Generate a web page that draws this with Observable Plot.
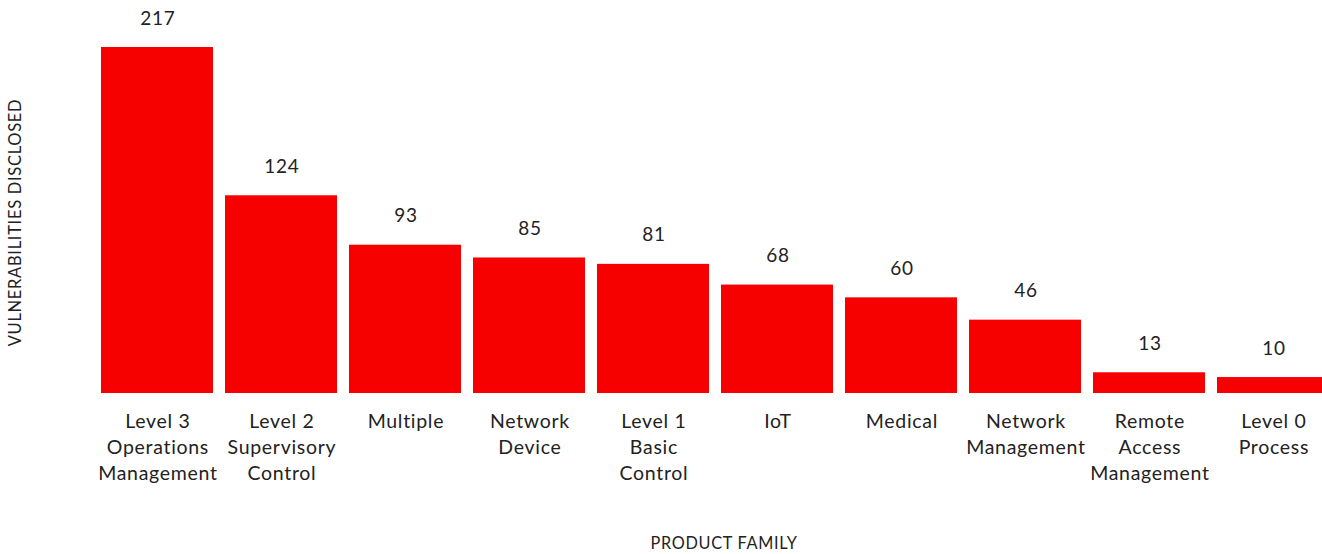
<!DOCTYPE html>
<html>
<head>
<meta charset="utf-8">
<script src="https://cdn.jsdelivr.net/npm/d3@7"></script>
<script src="https://cdn.jsdelivr.net/npm/@observablehq/plot@0.6"></script>
<style>
  body { margin: 0; background: #fff; }
  #chart svg { overflow: hidden; }
  #chart text { letter-spacing: 0.7px; }
</style>
</head>
<body>
<div id="chart"></div>
<script>
const categories = ["Level 3 Operations Management", "Level 2 Supervisory Control", "Multiple", "Network Device", "Level 1 Basic Control", "IoT", "Medical", "Network Management", "Remote Access Management", "Level 0 Process"];
const tickLabels = ["Level 3\nOperations\nManagement", "Level 2\nSupervisory\nControl", "Multiple", "Network\nDevice", "Level 1\nBasic\nControl", "IoT", "Medical", "Network\nManagement", "Remote\nAccess\nManagement", "Level 0\nProcess"];
const values = [217, 124, 93, 85, 81, 68, 60, 46, 13, 10];
const yLabel = "VULNERABILITIES DISCLOSED";
const xLabel = "PRODUCT FAMILY";

const data = categories.map((c, i) => ({category: c, value: values[i], tick: tickLabels[i]}));
const font = "Lato, 'Noto Sans', sans-serif";

const chart = Plot.plot({
  width: 1322,
  height: 554,
  marginTop: 47,
  marginBottom: 161,
  marginLeft: 95,
  marginRight: 0,
  style: {fontFamily: font, background: "#fff", color: "#222"},
  x: {domain: categories, range: [95, 1335], paddingInner: 0.0968, paddingOuter: 0.0484, axis: null},
  y: {domain: [0, 217], range: [393, 47], axis: null},
  marks: [
    Plot.barY(data, {x: "category", y: "value", fill: "#f70000"}),
    Plot.text(data, {x: "category", y: "value", text: d => String(d.value), dy: -29, dx: 0.4, fontSize: 19, fill: "#222"}),
    Plot.text(data, {x: "category", y: 0, text: "tick", lineAnchor: "top", dy: 16, dx: 0.4, fontSize: 19.5, lineHeight: 1.33, fill: "#222"}),
    Plot.text([yLabel], {frameAnchor: "left", textAnchor: "middle", rotate: -90, dx: -80, dy: 2, fontSize: 16.5, fill: "#222", style: "letter-spacing:1px"}),
    Plot.text([xLabel], {frameAnchor: "bottom", dx: 15, dy: 155, fontSize: 16.3, fill: "#222"})
  ]
});
document.getElementById("chart").append(chart);
</script>
</body>
</html>
